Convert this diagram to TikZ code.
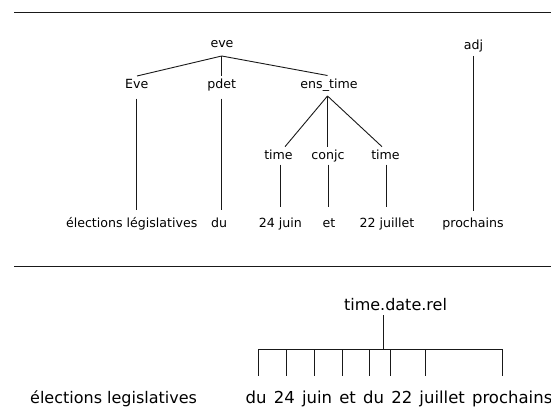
\documentclass[tikz,border=0pt]{standalone}
\usepackage{fontspec}
\setmainfont{DejaVu Sans}
\usetikzlibrary{calc}
\begin{document}
\begin{tikzpicture}[x=1pt,y=-1pt,
  lab/.style={anchor=base,inner sep=0pt,font=\fontsize{12.6}{15}\selectfont},
  big/.style={anchor=base west,inner sep=0pt,font=\fontsize{16}{19}\selectfont},
  edge/.style={line width=0.9pt,black!90}]
\clip (0,0) rectangle (551,412);
\useasboundingbox (0,0) rectangle (551,412);
% rules
\coordinate (r1a) at (14,12.7); \coordinate (r1b) at (551,12.7);
\coordinate (r2a) at (14,266);  \coordinate (r2b) at (551,266);
\draw[edge] (r1a) -- (r1b);
\draw[edge] (r2a) -- (r2b);
% top tree
\node[lab] (eve)   at (222,47.5)  {eve};
\node[lab] (adj)   at (473.5,50)  {adj};
\node[lab] (Eve)   at (136.7,88.5) {Eve};
\node[lab] (pdet)  at (221.7,88.5) {pdet};
\node[lab] (ens)   at (329,88.5)  {ens\_time};
\node[lab] (time1) at (278.5,159.7) {time};
\node[lab] (conjc) at (328,159.7) {conjc};
\node[lab] (time2) at (385.5,159.7) {time};
\node[lab] (elect) at (131.7,227) {élections législatives};
\node[lab] (du)    at (219,227)   {du};
\node[lab] (j24)   at (280.3,227) {24 juin};
\node[lab] (et)    at (329,227)   {et};
\node[lab] (j22)   at (387,227)   {22 juillet};
\node[lab] (proch) at (473,227)   {prochains};
% eve edges
\draw[edge] ($(eve.base)+(-0.3,8.5)$) -- ($(Eve.base)+(0.3,-12.5)$);
\draw[edge] ($(eve.base)+(-0.3,8.5)$) -- ($(pdet.base)+(0,-13)$);
\draw[edge] ($(eve.base)+(-0.3,8.5)$) -- ($(ens.base)+(-1.5,-13)$);
\draw[edge] ($(Eve.base)+(0,10)$) -- ($(Eve.base |- elect.base)+(0,-17.5)$);
\draw[edge] ($(pdet.base)+(0,10)$) -- ($(pdet.base |- du.base)+(0,-17)$);
% ens_time edges
\draw[edge] ($(ens.base)+(-1.5,7.5)$) -- ($(time1.base)+(6.5,-13)$);
\draw[edge] ($(ens.base)+(-1.5,7.5)$) -- ($(conjc.base)+(-0.5,-13)$);
\draw[edge] ($(ens.base)+(-1.5,7.5)$) -- ($(time2.base)+(-3.5,-13)$);
\draw[edge] ($(j24.base |- time1.base)+(0,5)$) -- ($(j24.base)+(0,-20.3)$);
\draw[edge] ($(conjc.base)+(0,5)$) -- ($(conjc.base |- et.base)+(0,-20.3)$);
\draw[edge] ($(time2.base)+(0.8,5)$) -- ($(time2.base |- j22.base)+(0.8,-20.3)$);
\draw[edge] ($(adj.base)+(0.2,6)$) -- ($(adj.base |- proch.base)+(0.2,-16.3)$);
% bottom
\node[anchor=base,inner sep=0pt,font=\fontsize{16}{19}\selectfont] (trel) at (395.5,310) {time.date.rel};
\node[big] (elect2) at (30,403) {élections legislatives};
\node[big,font=\fontsize{16.5}{19}\selectfont] (rest) at (245.5,403) {\spaceskip=7.2pt du 24 juin et du 22 juillet prochains};
\coordinate (barmid) at (383.7,349.3);
\coordinate (barL) at (258,349.3);
\coordinate (barR) at (502,349.3);
\draw[edge] ($(trel.base)+(-11.8,5.3)$) -- (barmid);
\draw[edge] (barL) -- (barR);
\foreach \tx in {258,286,314,342,369.5,390,425,502}
  \draw[edge] (\tx,349.3) -- (\tx,376);
\end{tikzpicture}
\end{document}
